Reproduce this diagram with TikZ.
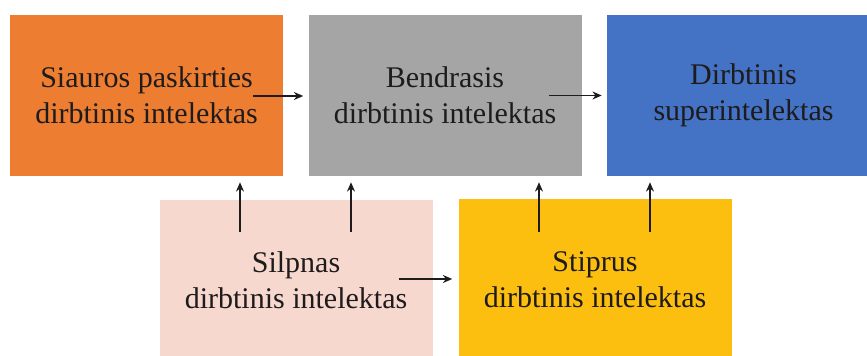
\documentclass[tikz,border=0pt]{standalone}
\usepackage{fontspec}
\newfontfamily\boxfont{Liberation Serif}
\usetikzlibrary{arrows.meta,calc}
\definecolor{cOrange}{HTML}{ED7D31}
\definecolor{cGray}{HTML}{A5A5A5}
\definecolor{cBlue}{HTML}{4472C4}
\definecolor{cPink}{HTML}{F7D8CE}
\definecolor{cYellow}{HTML}{FCBF10}
\definecolor{cInk}{HTML}{1E1B1C}
\begin{document}
\begin{tikzpicture}[x=0.75pt,y=-0.75pt,
  box/.style={minimum width=204.75pt,minimum height=120.75pt,inner sep=0pt,
    align=center,text=cInk,font=\boxfont\fontsize{22.5}{27}\selectfont},
  arr/.style={draw=cInk,line width=1pt,-{Stealth[length=7pt,width=6pt]}}]
\useasboundingbox (0,0) rectangle (867,356);
\clip (0,0) rectangle (867,356);
% top row
\node[box,fill=cOrange] (o) at (146.5,95.5) {Siauros paskirties\\dirbtinis intelektas};
\node[box,fill=cGray]   (g) at (445,95.5)   {Bendrasis\\dirbtinis intelektas};
\node[box,fill=cBlue]   (b) at (743.5,95.5) {Dirbtinis\\superintelektas};
% bottom row
\node[box,fill=cPink]   (p) at (296,280.5)  {Silpnas\\dirbtinis intelektas};
\node[box,fill=cYellow] (y) at (595,279.5)  {Stiprus\\dirbtinis intelektas};
% horizontal connectors
\coordinate (h1) at ($(o.east)+(-30,0.5)$);
\coordinate (h2) at ($(g.east)+(-33,0)$);
\coordinate (h3) at ($(p.east)+(-34,-1.5)$);
\draw[arr,shorten >=3.75pt] (h1) -- (h1 -| g.west);
\draw[arr,shorten >=3.75pt] (h2) -- (h2 -| b.west);
\draw[arr,shorten >=4.5pt]  (h3) -- (h3 -| y.west);
% vertical connectors
\coordinate (p1) at ($(p.north)+(-56,32)$);
\coordinate (p2) at ($(p.north)+(55,32)$);
\coordinate (y1) at ($(y.north)+(-56,33)$);
\coordinate (y2) at ($(y.north)+(55,33)$);
\draw[arr,shorten >=4.5pt] (p1) -- (p1 |- o.south);
\draw[arr,shorten >=4.5pt] (p2) -- (p2 |- g.south);
\draw[arr,shorten >=4.5pt] (y1) -- (y1 |- g.south);
\draw[arr,shorten >=4.5pt] (y2) -- (y2 |- b.south);
\end{tikzpicture}
\end{document}
